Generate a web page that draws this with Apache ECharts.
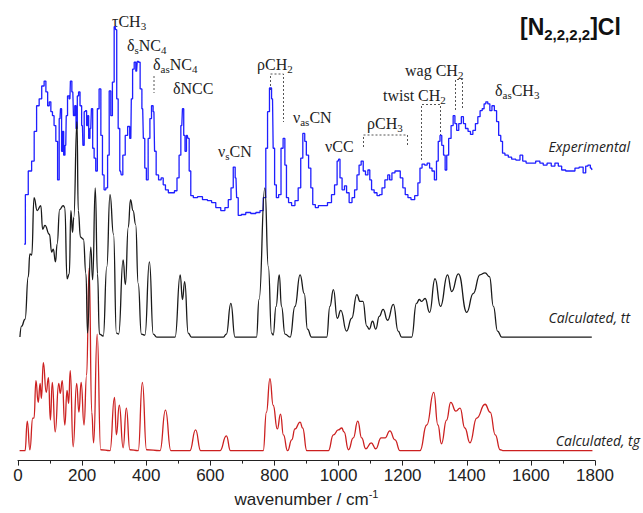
<!DOCTYPE html>
<html lang="en">
<head>
<meta charset="UTF-8">
<title>[N2222]Cl spectra</title>
<script src="https://cdn.jsdelivr.net/npm/echarts@6/dist/echarts.min.js"></script>
<style>
  body{margin:0;padding:0;background:#fff;}
  #chart{width:643px;height:513px;}
</style>
</head>
<body>
<div id="chart"></div>
<script>
// wavenumbers (cm-1) and intensities, arbitrary units
var expWn = [19,27,37,48,53,63,69,79,84,90, 95,100,105,110,115,121,126,131,134,138,
  141,144,149,152,157,162,165,171,175,179, 183,187,191,196,201,204,209,212,216,219,
  222,227,231,235,240,245,250,256,261,266, 271,277,282,287,292,297,303,306,310,315,
  320,324,330,339,345,352,355,360,365,370, 374,378,384,389,393,398,403,409,414,419,
  424,428,434,443,450,456,464,474,484,492, 500,505,511,515,519,523,528,532,536,542,
  552,568,583,599,609,625,640,651,661,668, 675,680,684,690,703,718,734,750,760,770,
  776,781,788,794,798,803,809,817,824,830, 835,840,848,859,869,879,885,892,897,902,
  911,916,923,932,942,958,973,983,992,999, 1002,1007,1015,1022,1028,1038,1046,1054,1061,1067,
  1074,1080,1088,1095,1100,1106,1116,1124,1132,1139, 1150,1157,1162,1171,1181,1188,1197,1204,1212,1221,
  1231,1244,1251,1257,1264,1273,1280,1288,1295,1303, 1308,1314,1319,1325,1330,1335,1340,1347,1355,1360,
  1366,1371,1379,1387,1392,1400,1408,1415,1423,1431, 1438,1445,1451,1457,1462,1469,1475,1482,1490,1496,
  1503,1509,1514,1524,1535,1545,1561,1571,1578,1592, 1607,1623,1633,1644,1657,1670,1680,1691,1701,1716,
  1732,1743,1758,1768,1774,1782,1789,1792];
var expInt = [19,69,93,103,133,159,166,179,184,173, 159,163,153,149,139,123,84,146,156,113,
  133,109,119,149,169,166,184,173,149,159, 136,169,173,159,139,119,153,154,139,149,
  126,136,156,116,106,93,156,176,129,89, 74,76,109,174,149,183,239,236,166,136,
  93,89,109,129,138,126,166,196,203,194, 204,203,176,156,126,96,84,126,146,159,
  153,113,89,84,86,79,74,71,71,73, 86,109,139,156,129,113,129,126,93,68,
  66,67,64,63,61,56,53,56,64,76, 97,86,66,48,49,51,50,51,53,66,
  116,153,177,166,116,79,66,69,116,126, 99,66,61,58,63,76,106,131,123,109,
  96,76,59,56,58,58,61,69,79,103, 105,86,74,78,71,61,66,74,89,99,
  103,93,89,94,84,74,71,68,69,76, 84,89,84,91,93,93,86,76,69,66,
  64,68,81,96,100,99,101,96,93,84, 103,123,129,119,109,94,109,126,139,149,
  141,134,141,148,141,136,133,130,134,141, 148,154,156,161,163,161,154,159,154,143,
  129,123,111,109,107,105,104,109,103,101, 101,103,101,99,101,98,101,98,94,93,
  93,96,97,91,98,99,96,94];

var ttWn = [6,11,22,32,37,43,50,60,71,77, 84,98,105,110,117,122,130,141,146,153,
  160,165,170,174,184,188,195,204,212,217, 227,233,241,248,254,266,277,287,298,307,
  314,328,335,344,351,359,367,375,385,396, 410,422,433,490,506,513,520,531,541,641,
  650,664,677,744,752,770,781,791,796,805, 815,822,833,849,864,880,893,903,916,963,
  973,984,996,1007,1025,1041,1057,1067,1076,1088, 1096,1106,1116,1127,1139,1153,1171,1186,1197,1228,
  1243,1252,1259,1270,1284,1301,1318,1340,1353,1374, 1400,1420,1441,1457,1471,1483,1496,1509,1790];
var ttInt = [0,11,18,61,84,83,141,128,133,109, 113,104,86,89,76,94,129,133,131,59,
  64,128,106,121,218,128,101,99,64,4, 91,58,151,64,3,1,71,144,104,4,
  3,78,53,111,139,128,114,54,3,2, 76,3,0,0,63,38,56,4,0,0,
  3,34,0,0,38,151,71,4,2,31, 63,31,3,0,31,63,44,8,0,0,
  31,48,19,27,6,19,43,36,36,11, 8,16,8,21,28,17,33,6,0,0,
  34,38,36,39,25,59,31,63,46,64, 25,44,63,65,61,31,6,0,0];

var tgWn = [5,22,29,37,46,50,56,63,69,73, 79,88,95,101,107,116,127,132,138,146,
  153,158,163,172,183,190,197,206,214,222, 230,236,247,258,287,301,307,316,328,338,
  349,375,388,401,443,460,477,536,554,570, 630,650,663,765,775,786,796,809,819,828,
  841,854,864,880,888,901,968,984,999,1010, 1017,1031,1046,1060,1072,1085,1102,1116,1133,1145,
  1160,1176,1192,1254,1275,1297,1310,1321,1337,1350, 1366,1379,1394,1410,1431,1457,1473,1489,1504,1515,
  1792];
var tgInt = [0,0,30,1,33,33,71,49,68,53, 89,59,74,31,69,19,68,58,71,26,
  61,48,81,4,68,39,69,26,76,185, 39,8,118,1,0,54,16,46,3,43,
  1,0,69,1,0,41,0,0,21,0, 0,15,0,0,39,73,46,22,37,16,
  0,11,22,29,23,0,0,16,21,23, 19,1,13,30,13,2,8,2,13,13,
  20,11,0,0,26,59,26,7,31,49, 40,43,23,8,33,47,39,16,1,0,
  0];

var xTicks = [0, 200, 400, 600, 800, 1000, 1200, 1400, 1600, 1800];
var traceNames = ['Experimental', 'Calculated, tt', 'Calculated, tg'];

// vertical offsets that stack the three traces
var expShift = 200, ttShift = 125, tgShift = 10;

function pairs(xs, ys, shift) {
  return xs.map(function (x, i) { return [x, ys[i] + shift]; });
}

var SERIF = '"Liberation Serif", "Times New Roman", serif';
var RICH = {
  m: { fontFamily: SERIF, fontSize: 16, lineHeight: 21, fill: '#222' },
  s: { fontFamily: SERIF, fontSize: 11, lineHeight: 21, fill: '#222', verticalAlign: 'bottom' }
};

// band assignments: [left x, middle y, text]
var bands = [
  [112, 21, '{m|τCH}{s|3}'],
  [127, 45, '{m|δ}{s|s}{m|NC}{s|4}'],
  [153, 64, '{m|δ}{s|as}{m|NC}{s|4}'],
  [173, 88, '{m|δNCC}'],
  [218, 151, '{m|ν}{s|s}{m|CN}'],
  [257, 64, '{m|ρCH}{s|2}'],
  [293, 117, '{m|ν}{s|as}{m|CN}'],
  [325, 146, '{m|νCC}'],
  [367, 123, '{m|ρCH}{s|3}'],
  [383, 95, '{m|twist CH}{s|2}'],
  [405, 70, '{m|wag CH}{s|2}'],
  [495, 90, '{m|δ}{s|as}{m|CH}{s|3}']
];

var brackets = [
  [[154, 76], [154, 93]],
  [[270.5, 90], [270.5, 74], [283.5, 74], [283.5, 122]],
  [[363.5, 147], [363.5, 135], [407.5, 135], [407.5, 147]],
  [[421.5, 160], [421.5, 104.5], [440.5, 104.5], [440.5, 137]],
  [[455.5, 110], [455.5, 79.5], [462.5, 79.5], [462.5, 110]]
];

var graphics = [];
bands.forEach(function (b) {
  graphics.push({ type: 'text', x: b[0], y: b[1], silent: true,
    style: { text: b[2], rich: RICH, verticalAlign: 'middle', align: 'left', fill: '#222' } });
});
brackets.forEach(function (p) {
  graphics.push({ type: 'polyline', silent: true, shape: { points: p },
    style: { stroke: '#555', lineWidth: 1, lineDash: [2, 2], fill: null } });
});
// trace names
[[630, 146, traceNames[0]], [630, 317, traceNames[1]], [640, 440, traceNames[2]]].forEach(function (t) {
  graphics.push({ type: 'text', x: t[0], y: t[1], silent: true,
    style: { text: t[2], fill: '#222', align: 'right', verticalAlign: 'middle',
      font: 'italic 14px "Open Sans", "Liberation Sans", sans-serif' } });
});
// compound
graphics.push({ type: 'text', x: 520, y: 27, silent: true,
  style: { text: '{t|[N}{u|2,2,2,2}{t|]Cl}', verticalAlign: 'middle', align: 'left',
    rich: {
      t: { fontFamily: '"Liberation Sans", Arial, sans-serif', fontWeight: 'bold', fontSize: 23, lineHeight: 30, fill: '#111' },
      u: { fontFamily: '"Liberation Sans", Arial, sans-serif', fontWeight: 'bold', fontSize: 15, lineHeight: 30, fill: '#111', verticalAlign: 'bottom' }
    } } });

var chart = echarts.init(document.getElementById('chart'), null, { renderer: 'svg' });
var option = {
  animation: false,
  grid: { left: 18, right: 48, top: 0, bottom: 47 },
  xAxis: {
    type: 'value',
    min: xTicks[0],
    max: xTicks[xTicks.length - 1],
    interval: xTicks[1] - xTicks[0],
    name: '{a|wavenumber / cm}{b|-1}',
    nameLocation: 'middle',
    nameGap: 21,
    nameTextStyle: {
      rich: {
        a: { fontFamily: '"Liberation Sans", Arial, sans-serif', fontSize: 17, color: '#222', lineHeight: 22 },
        b: { fontFamily: '"Liberation Sans", Arial, sans-serif', fontSize: 11, color: '#222', lineHeight: 22, verticalAlign: 'top' }
      }
    },
    axisLine: { lineStyle: { color: '#222', width: 1.2 } },
    axisTick: { show: true, inside: false, length: 5, lineStyle: { color: '#222' } },
    minorTick: { show: true, splitNumber: 2, length: 3, lineStyle: { color: '#222' } },
    splitLine: { show: false },
    axisLabel: {
      fontFamily: '"Liberation Sans", Arial, sans-serif', fontSize: 17, color: '#222', margin: 6,
      formatter: function (v) { return String(v); }
    }
  },
  yAxis: { type: 'value', min: 0, max: 466, show: false },
  series: [
    {
      name: traceNames[0], type: 'line', data: pairs(expWn, expInt, expShift),
      symbol: 'none', step: 'middle', silent: true, z: 1,
      lineStyle: { color: '#1f1fff', width: 1.3 }
    },
    {
      name: traceNames[2], type: 'line', data: pairs(tgWn, tgInt, tgShift),
      symbol: 'none', smooth: 0.5, smoothMonotone: 'x', silent: true, z: 2,
      lineStyle: { color: '#cc2020', width: 1.3 }
    },
    {
      name: traceNames[1], type: 'line', data: pairs(ttWn, ttInt, ttShift),
      symbol: 'none', smooth: 0.5, smoothMonotone: 'x', silent: true, z: 3,
      lineStyle: { color: '#1a1a1a', width: 1.3 }
    }
  ],
  graphic: graphics
};
chart.setOption(option);
</script>
</body>
</html>
